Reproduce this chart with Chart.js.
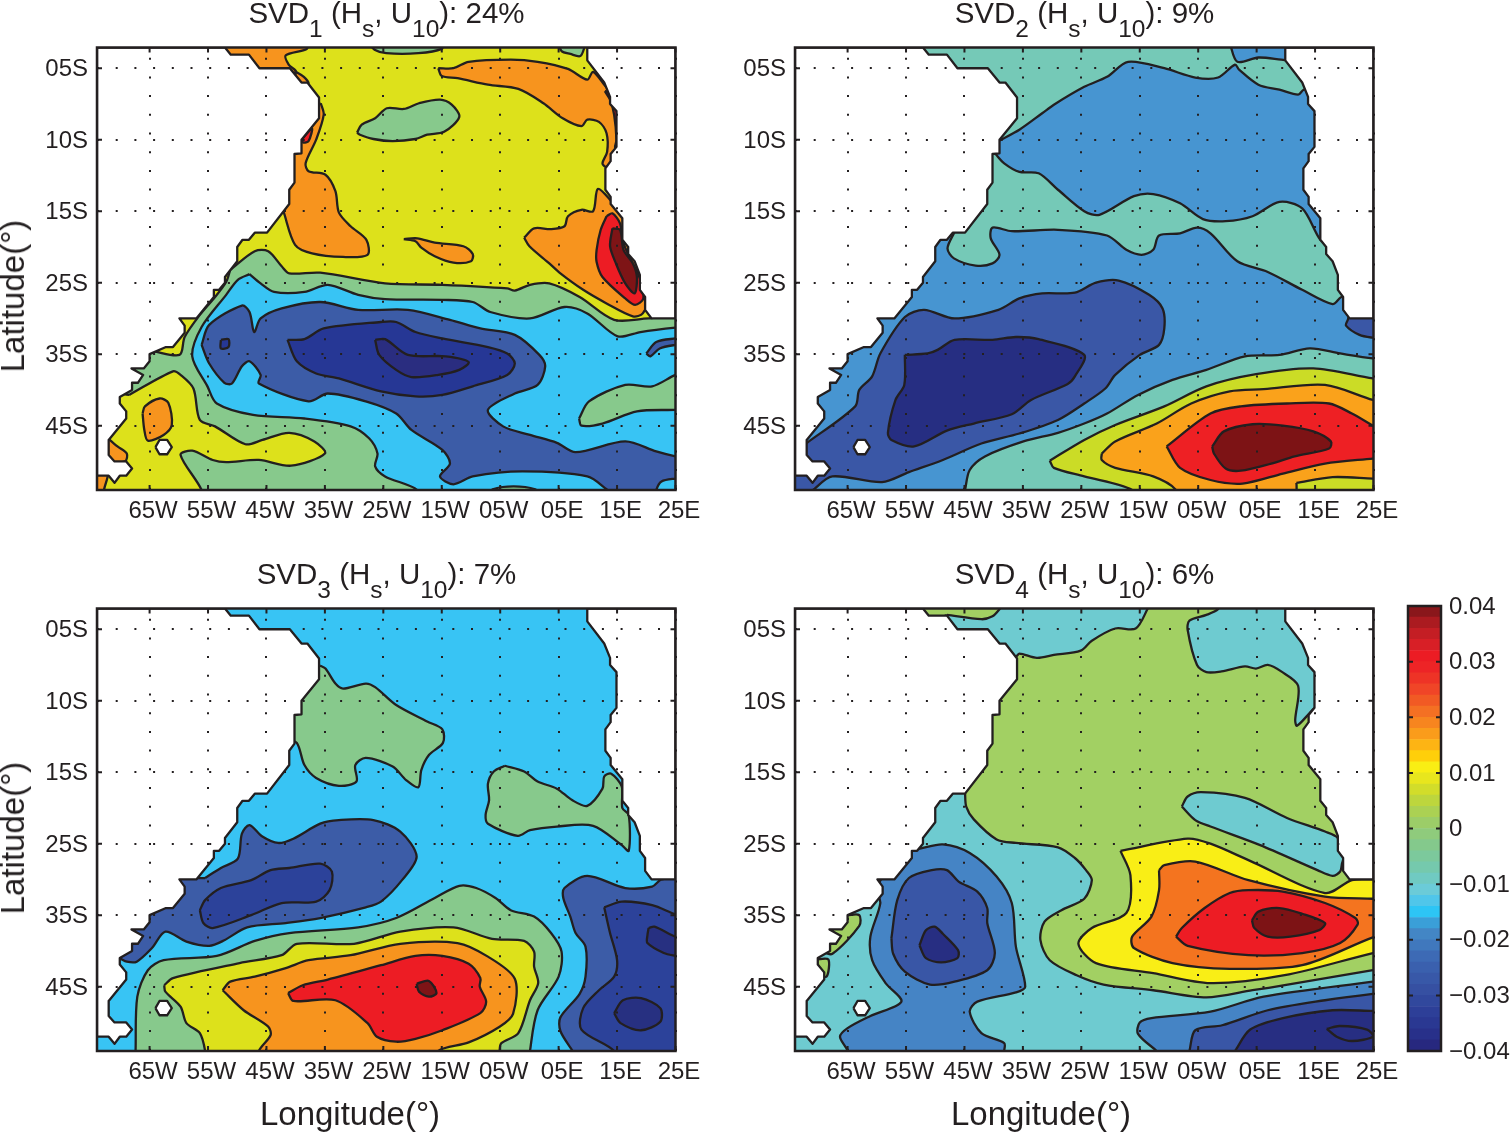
<!DOCTYPE html>
<html>
<head>
<meta charset="utf-8">
<title>SVD maps</title>
<script src="https://cdn.jsdelivr.net/npm/chart.js@4/dist/chart.umd.min.js"></script>
<style>
  html, body { margin: 0; padding: 0; background: #fff; }
  #page { position: relative; width: 1511px; height: 1133px; overflow: hidden; font-family: "Liberation Sans", Arial, sans-serif; color: #231f20; }
  canvas { position: absolute; }
  .title { position: absolute; transform: translateX(-50%); font-size: 29.5px; line-height: 34px; white-space: nowrap; }
  .title span { font-size: 24.5px; position: relative; top: 14px; }
  .axisName { position: absolute; font-size: 33px; line-height: 34px; white-space: nowrap; transform: translate(-50%, -50%); }
  .axisName.rot { transform: translate(-50%, -50%) rotate(-90deg); }
</style>
</head>
<body>
<div id="page">
  <canvas id="map1" width="710" height="510" style="left:0;top:30px"></canvas>
  <canvas id="map2" width="710" height="510" style="left:700px;top:30px"></canvas>
  <canvas id="map3" width="710" height="510" style="left:0;top:591px"></canvas>
  <canvas id="map4" width="710" height="510" style="left:700px;top:591px"></canvas>
  <canvas id="cbar" width="116" height="480" style="left:1395px;top:590px"></canvas>

  <div class="title" style="left:386.5px;top:-4px">SVD<span>1</span> (H<span>s</span>, U<span>10</span>): 24%</div>
  <div class="title" style="left:1084.5px;top:-4px">SVD<span>2</span> (H<span>s</span>, U<span>10</span>): 9%</div>
  <div class="title" style="left:386.5px;top:557px">SVD<span>3</span> (H<span>s</span>, U<span>10</span>): 7%</div>
  <div class="title" style="left:1084.5px;top:557px">SVD<span>4</span> (H<span>s</span>, U<span>10</span>): 6%</div>

  <div class="axisName rot" style="left:13px;top:296px">Latitude(°)</div>
  <div class="axisName rot" style="left:13px;top:838px">Latitude(°)</div>
  <div class="axisName" style="left:350px;top:1114px">Longitude(°)</div>
  <div class="axisName" style="left:1041px;top:1114px">Longitude(°)</div>
</div>

<script>
// ticks
const lonTicks = [-65, -55, -45, -35, -25, -15, -5, 5, 15, 25];
const lonLabels = ["65W", "55W", "45W", "35W", "25W", "15W", "05W", "05E", "15E", "25E"];
const latTicks = [5, 15, 25, 35, 45, 55];
const latLabels = ["05S", "10S", "15S", "25S", "35S", "45S"];
const cbarTicks = [-0.04, -0.03, -0.02, -0.01, 0, 0.01, 0.02, 0.03, 0.04];
const cbarLabels = ["\u22120.04", "\u22120.03", "\u22120.02", "\u22120.01", "0", "0.01", "0.02", "0.03", "0.04"];

// colorbar
const cbarEdges = [-0.04, -0.038, -0.036, -0.034, -0.032, -0.03, -0.028, -0.026, -0.024, -0.022, -0.02, -0.018, -0.016, -0.014, -0.012, -0.01, -0.008, -0.006, -0.004, -0.002, 0, 0.002, 0.004, 0.006, 0.008, 0.01, 0.012, 0.014, 0.016, 0.018, 0.02, 0.022, 0.024, 0.026, 0.028, 0.03, 0.032, 0.034, 0.036, 0.038, 0.04];
const cbarColors = ["#27287f", "#28308a", "#2a3892", "#2d3f98", "#31489d", "#3650a2", "#3858a8", "#3a60ae", "#3d6ab5", "#4078bd", "#4386c5", "#3a9fd8", "#2dc5f5", "#50c6ea", "#6bcbd8", "#70cac2", "#75c9ad", "#7cc99c", "#84c98c", "#8fcb7c", "#9ccd68", "#abd153", "#bdd63d", "#d2dd2a", "#e8e61d", "#f9ee14", "#ffcf0a", "#fdb414", "#fa9c1b", "#f7851f", "#f47023", "#f15a24", "#f04527", "#ee3326", "#ed2426", "#ec1c24", "#d81f26", "#c41e24", "#ab1b20", "#8a171b"];

// domain and land, [lon, lat south]
const oceanBox = [[-74, 2.1], [25, 2.1], [25, 64], [-74, 64]];
const landWest = [[-52.1, 2.1], [-51.1, 3.1], [-48, 3.1], [-46.2, 5], [-41, 5], [-39, 7], [-38, 7], [-36, 9.1], [-36, 12], [-39, 15], [-39, 16.9], [-40.2, 17], [-40.2, 21], [-41.1, 22], [-41.1, 24], [-44.9, 28], [-47, 28], [-48, 29], [-49.1, 29], [-50, 30], [-50, 32], [-52.1, 34.2], [-52.1, 35], [-53.1, 36], [-54, 36], [-54, 37], [-57, 40], [-59.9, 40], [-59, 41], [-59, 42], [-61, 44], [-62.2, 44], [-65, 45], [-65, 46], [-66, 47], [-68.1, 47], [-66.1, 47.9], [-67, 49], [-68, 49], [-68, 50], [-70.1, 51], [-70.1, 51.9], [-69, 53], [-69, 54], [-72, 57], [-72, 59.1], [-71, 60], [-69, 60], [-68, 61], [-69, 62], [-70.1, 62], [-71, 63], [-72, 62], [-74, 62], [-74, 2.1]];
const landEast = [[9.9, 2.1], [9.9, 3.9], [12.8, 7], [13.8, 9], [13.8, 10], [14.9, 11], [14.9, 16], [13.9, 17], [13.9, 18], [13, 19], [13, 22], [13.9, 23], [13.9, 24], [15.9, 26], [15.9, 29], [16.9, 30], [16.9, 31], [18, 32], [18.9, 33.9], [18.9, 36], [19.8, 37], [19.8, 38.8], [20.9, 40], [25, 40], [25, 2.1]];
const islandGough = [[-64, 58], [-63.3, 57], [-62, 57], [-61.2, 58], [-62, 59], [-63.3, 59]];

// SVD1 contours
const p1OrangeNW = [[-53, 1.5], [-38.1, 1.5], [-38.1, 2.3], [-41.7, 3.2], [-41.2, 4.5], [-40, 5.5], [-44, 7], [-50, 6]];
const p1OrangeNotch = [[-40, 5.5], [-38.6, 6.2], [-37.8, 7.1], [-39, 7.2], [-40, 6.2]];
const p1GreenTop = [[-27.5, 1.5], [-26.5, 2.4], [-24.5, 2.9], [-19, 2.9], [-15, 2.3], [-15, 1.5]];
const p1GreenCorner = [[5, 1.5], [5.5, 2.6], [7, 3], [8.7, 3.3], [9.4, 2.1], [9.4, 1.5]];
const p1OrangeNE = [[-15.6, 5], [-13, 5], [-10.4, 4.1], [-3.2, 3.8], [1.4, 4.1], [6.6, 5.1], [9.9, 6.6], [10.9, 5.5], [13, 7.5], [15.5, 10], [16, 16], [13.2, 18.8], [12.5, 18.3], [13.3, 16.7], [13.2, 14.1], [11.9, 12.5], [9.9, 12.2], [8.9, 13.1], [5.7, 12], [2.4, 9.9], [-1.9, 7.9], [-7.1, 7.3], [-12.3, 6.4], [-15, 6.1]];
const p1RedNE = [[12.9, 8.2], [13.8, 9.4], [14.5, 11.5], [14.9, 15], [14.7, 16.2], [16.5, 16], [16.5, 9]];
const p1GreenMid = [[-29.5, 14], [-28.7, 12.9], [-26.4, 12], [-24.4, 10.6], [-21.5, 10.7], [-18.9, 9.9], [-15.3, 9.4], [-13.3, 10.1], [-12, 11.8], [-14.6, 13.9], [-17.5, 14.3], [-19.5, 14.9], [-23.4, 15.2], [-26.7, 14.9], [-29, 14.3]];
const p1OrangeBrazil = [[-35.7, 9.9], [-35.2, 11.5], [-36.5, 15], [-38.3, 18.3], [-37.8, 19.4], [-34.9, 19.9], [-33.2, 22.2], [-32.6, 25.2], [-30.6, 27.1], [-27.9, 29], [-27.7, 31.1], [-31.9, 31.4], [-37.2, 30.9], [-40.1, 29.7], [-42.1, 25], [-43, 23], [-42, 18], [-41, 15], [-38, 11]];
const p1RedBrazil = [[-39, 15], [-37.2, 13.4], [-37.8, 15.2], [-38.7, 15.4]];
const p1OrangeSmall = [[-21.5, 28.9], [-19.2, 28.8], [-16.2, 29.4], [-11.3, 29.9], [-9.7, 31], [-10, 32], [-13, 32.2], [-16.2, 31.3], [-18.5, 30.1], [-19.5, 29.2]];
const p1OrangeAngola = [[-0.9, 28.7], [0.8, 27.4], [3.7, 27.5], [6, 27.1], [6.6, 25.7], [8.9, 24.8], [10.9, 25], [11.7, 21.9], [13.8, 23.4], [15.8, 25.7], [18, 30], [21, 36], [19.4, 39.3], [17.7, 39.7], [13.2, 37.9], [9.2, 36], [5.3, 33.7], [3.4, 32.3], [0, 29.9]];
const p1RedAngola = [[13.2, 25.7], [14.2, 25.3], [15.5, 26.7], [16.1, 29.5], [17.7, 32.3], [19, 34.6], [19.5, 37.2], [18.1, 38.1], [16.4, 37.2], [12.5, 34.2], [11.5, 32.1], [11.5, 30.4], [12.2, 27.6]];
const p1DarkRed = [[14.2, 27.4], [15.5, 27.6], [16.1, 30.4], [17.7, 32.3], [18.4, 34.2], [18, 36.5], [16.4, 35.1], [14.8, 32.3], [13.8, 29.9]];
const p1Green = [[-51.2, 33.2], [-47, 30.6], [-44.7, 30.6], [-42.4, 32.7], [-41.1, 33.7], [-35.8, 33.6], [-24.7, 35.1], [-14.9, 35.3], [-3.8, 35.8], [-2.5, 36.1], [0.1, 35.3], [3.4, 35.1], [8.6, 37], [14.5, 40.2], [20.4, 40], [26, 40], [26, 66], [-76, 66], [-76, 47], [-66, 44.5], [-59.9, 45.1], [-59, 42.6], [-56.4, 39.5], [-53.8, 37], [-51.9, 34.9]];
const p1YellowSW = [[-68.5, 50.7], [-61, 47.4], [-59.7, 47.9], [-57.5, 49.8], [-56.4, 54.2], [-53.8, 55.1], [-48.6, 57.6], [-45.7, 57], [-41.1, 56], [-36.8, 57.2], [-35, 58.9], [-40.8, 60.6], [-46.3, 59.8], [-51.9, 60.1], [-54.2, 59.8], [-57.7, 58.5], [-59.7, 59.1], [-56.1, 64], [-56, 66], [-76, 66], [-76, 50]];
const p1OrangeSW = [[-66.2, 53.3], [-65.8, 52.3], [-63.3, 51.2], [-61.8, 51.8], [-61.2, 54.9], [-62.6, 56.3], [-65.3, 57.1], [-65.9, 55.6]];
const p1OrangeCoast = [[-72.5, 56.5], [-70.5, 57.9], [-68.9, 58.9], [-69.2, 60], [-72.5, 60]];
const p1OrangeCorner = [[-75, 61.5], [-72.2, 61.5], [-72.8, 64], [-72.8, 65], [-75, 65]];
const p1Sky = [[-47.9, 33.8], [-46, 35.1], [-43.7, 36.3], [-38.5, 36.3], [-34.5, 35.3], [-29.3, 36.7], [-24.7, 37.3], [-14.9, 37.4], [-9.7, 37.7], [-6.7, 39.1], [0.1, 40], [6, 38.4], [9.9, 39.3], [15.1, 42.5], [19, 41.9], [25, 41.3], [26, 41.3], [26, 66], [-19.2, 66], [-19.2, 64], [-24.7, 62.1], [-26.4, 60.7], [-26, 58.9], [-27.4, 56.8], [-30.6, 55.1], [-38.5, 54], [-47.3, 53.5], [-53.5, 51.9], [-55.1, 49.5], [-57.7, 45.3], [-56.1, 41.2], [-51.9, 36.7], [-49.9, 34.6]];
const p1Blue = [[-56.1, 43.7], [-54.8, 40.9], [-49.2, 38.2], [-47.9, 39.1], [-47.1, 41.9], [-46, 40], [-42.4, 38.6], [-35.8, 37.7], [-29.3, 38.8], [-20.8, 38.8], [-13.6, 40.2], [-8.4, 41.4], [-2.5, 42.3], [1.7, 45.1], [2.7, 46.7], [1.4, 49.3], [-2.5, 50.5], [-7.1, 52.8], [-4.5, 55.1], [0.1, 56.3], [4.7, 57.4], [7.9, 58.7], [16.4, 57.2], [21.7, 58.6], [25, 59.3], [26, 59.4], [26, 62.4], [25, 62.4], [22.6, 62.8], [21.7, 64], [21.7, 65], [14.5, 65], [13.2, 63.9], [9.9, 62.1], [-1.2, 61.4], [-9.7, 62.1], [-13, 63.2], [-15.3, 62.1], [-13.6, 60.3], [-14.9, 58.4], [-20.2, 55.6], [-22.8, 53.3], [-28, 51.6], [-34.5, 50.5], [-37.8, 51.6], [-46.3, 49.1], [-46, 47.9], [-47.9, 46], [-49.2, 46.7], [-50.9, 49.1], [-52.2, 49], [-54.8, 46.3]];
const p1GreenBottom = [[-6.5, 64.5], [-6.3, 63.9], [-2.7, 63.5], [1, 63.9], [1.2, 64.5]];
const p1GreenEast = [[8.5, 54], [10.2, 51.6], [16.4, 49.3], [21, 49.5], [25, 47.9], [26, 47.9], [26, 52.8], [25, 52.8], [18.4, 53], [12.5, 54.7], [8.9, 55]];
const p1BlueEast = [[20, 44.9], [21.7, 43.3], [25, 42.8], [26, 42.8], [26, 43.7], [25, 43.7], [22.3, 44.2], [20.7, 45.3]];
const p1Navy = [[-41.4, 43], [-38.5, 42.9], [-35.2, 41.4], [-25.4, 40.5], [-22.8, 40.5], [-19.5, 41.9], [-14.9, 42.8], [-7.1, 44], [-3.8, 44.9], [-2.5, 46.3], [-3.8, 47.9], [-9.7, 49.5], [-14.9, 50.7], [-19.5, 50.9], [-25.4, 50.2], [-32.6, 48.4], [-36.5, 47.7], [-39.8, 46]];
const p1NavyDot = [[-52.8, 43], [-51.5, 42.9], [-51.5, 44], [-52.8, 44.2]];
const p1Deep = [[-26.4, 43], [-24.7, 42.9], [-20.8, 45.1], [-14.3, 45.3], [-10.4, 46.1], [-12, 47.2], [-15.6, 47.9], [-20.2, 48.2], [-22.8, 47.2], [-25.7, 45.1]];

// SVD2 contours
const p2BlueNorth = [[-39, 15.1], [-35.6, 13.6], [-31.7, 11.3], [-29.7, 10.1], [-24.5, 7.6], [-20.6, 6.2], [-17, 4.1], [-10.8, 5], [-5.5, 6.3], [-1.6, 6.3], [1.3, 4.5], [2, 5.2], [5.3, 7.3], [8.9, 8], [12.1, 8.7], [13.1, 8], [17, 8], [17, 29], [15.9, 29], [12.8, 24.6], [8.9, 23.7], [4.3, 25.7], [-0.3, 26.4], [-4.2, 26.1], [-8.1, 23.9], [-12.7, 22.6], [-16, 22.9], [-21.9, 25.5], [-24.5, 25], [-29, 22], [-32.3, 19.7], [-35.6, 19.5], [-38.2, 18.3], [-39.8, 16.9], [-41, 16]];
const p2BlueCorner = [[0.4, 1.5], [1.7, 4.1], [5.3, 3.5], [9.2, 3.8], [10, 3.9], [11, 3.9], [11, 1.5]];
const p2BlueSouth = [[-46.7, 27.9], [-47.9, 30.2], [-46.8, 31.6], [-43.1, 32.6], [-40.2, 32.3], [-39, 31.1], [-40.5, 28.8], [-40.2, 27.3], [-36.9, 27.8], [-29, 27.6], [-20.6, 28.4], [-17.3, 30.4], [-14.7, 31.1], [-12.7, 30.4], [-11.7, 28.4], [-8.1, 28.1], [-5.2, 27.3], [-2.9, 28.1], [1.7, 32], [6.9, 33.5], [12.8, 36], [18, 38], [19.5, 37], [21, 37], [26, 40], [26, 66], [-76, 66], [-76, 40], [-50, 28]];
const p2TealSouth = [[-44.9, 64], [-44.1, 61.2], [-41.5, 59.3], [-34.9, 57.2], [-29, 56], [-24.5, 54.7], [-20.6, 53.3], [-15.3, 50.7], [-9.4, 48.6], [-3.6, 47.2], [3, 45.3], [8.9, 45.1], [14.1, 44.2], [19.3, 44.9], [24.9, 45.6], [26, 45.6], [26, 66], [-44.9, 66]];
const p2DarkBlue = [[-72.1, 57.5], [-63.7, 52.3], [-63, 50], [-60.8, 48.1], [-59.4, 44.9], [-55.2, 39.8], [-51.9, 38.8], [-46.7, 40], [-39.2, 38.8], [-35.6, 37.2], [-31.7, 36.5], [-26.1, 36.4], [-22.5, 35], [-18.6, 34.7], [-13.4, 36.7], [-11.1, 38.6], [-10.8, 41.4], [-11.7, 43.7], [-15, 45.1], [-19.2, 47.9], [-20.9, 49.8], [-24.5, 51.9], [-29, 54.2], [-35.6, 56.1], [-42.1, 57.5], [-48.7, 59.8], [-54.5, 61.5], [-59.1, 62.9], [-67.6, 62.1], [-70.9, 64], [-72, 65], [-76, 65], [-76, 57]];
const p2DarkEast = [[20.6, 40.2], [20.3, 41], [22.6, 42.3], [24.9, 42.7], [26, 42.7], [26, 39.5], [21, 39.5]];
const p2Navy = [[-55.2, 45.1], [-51.3, 44.9], [-49.6, 44.4], [-46.7, 43], [-40.2, 43], [-36.2, 42.6], [-32.3, 42.9], [-24.5, 45.1], [-26.1, 48.1], [-27.4, 49.2], [-33.6, 51.4], [-36.9, 53.4], [-43.4, 54.7], [-48, 55.7], [-53.6, 57.9], [-57.5, 57], [-58.1, 56], [-56.8, 51.4], [-55.3, 49.3]];
const p2Lime = [[-30.4, 59.9], [-24.5, 57], [-19.2, 54.9], [-10.8, 52.3], [-3.6, 49.5], [4.9, 47.8], [14.7, 47], [24.9, 48.4], [26, 48.4], [26, 66], [-16.3, 66], [-16.3, 64], [-24.5, 62.1], [-29.7, 60.9]];
const p2Amber = [[-21.5, 58.9], [-19.2, 57.2], [-12.1, 54.7], [-6.2, 51.9], [0.4, 50.2], [6.2, 49.9], [16.7, 49.3], [24.9, 51.4], [26, 51.4], [26, 66], [-8.8, 66], [-8.8, 64], [-12.7, 62.1], [-19.2, 60.9], [-21.5, 59.8]];
const p2LimeLens = [[11.8, 63], [18, 62.2], [24.9, 62.4], [26, 62.4], [26, 66], [12.4, 66]];
const p2Red = [[-10.4, 57.9], [-2.9, 53.3], [2.3, 52.3], [10.2, 51.9], [17.4, 51.9], [21.3, 53.3], [24.9, 55], [26, 55.5], [26, 59.5], [24.9, 59.6], [16.7, 60.3], [9.5, 61.7], [2.6, 63.1], [-2.9, 62.6], [-8.1, 60.9]];
const p2DarkRed = [[-2.6, 57.9], [-0.6, 55.8], [4.3, 54.8], [9.5, 55], [14.7, 55.8], [17.7, 57.2], [17.4, 58.2], [11.5, 59.3], [7.5, 60.3], [2.3, 61.3], [-0.3, 61], [-2.3, 58.9]];

// SVD3 contours
const p3GreenBrazil = [[-35.8, 10.1], [-34.9, 10.5], [-33.2, 12.6], [-31.9, 13.3], [-28, 12.6], [-26.4, 13.1], [-22.8, 15.6], [-17.5, 17.9], [-14.9, 19], [-14.8, 20.9], [-17.2, 22.6], [-18.5, 24.7], [-19, 27.1], [-21.1, 26.1], [-23.4, 24.2], [-28, 23], [-29.8, 24], [-29.6, 26.3], [-32.6, 26.9], [-36.5, 25.8], [-38.5, 24], [-39.8, 20.9], [-42, 20], [-42, 12], [-37, 10]];
const p3GreenAngola = [[-4.2, 24.1], [-0.9, 24.9], [1.4, 26.3], [4.7, 27.3], [7.3, 28.9], [9.9, 29.7], [12.5, 27.3], [12.8, 25.6], [14, 25.2], [15.8, 27], [15.9, 30], [17, 31], [17, 36], [15.8, 35.2], [10.9, 32.5], [4.7, 32.6], [0.1, 33.1], [-2, 33.9], [-7.1, 32.2], [-7.5, 31], [-6.9, 28.9], [-7.1, 26.6], [-6.1, 24.9]];
const p3Blue = [[-55.5, 39.8], [-52.8, 38.4], [-49.9, 37.1], [-49.2, 33.6], [-47.9, 32.4], [-45.7, 34], [-43, 34.9], [-40.4, 34.3], [-35.8, 32.2], [-32.6, 31.7], [-26.7, 31.7], [-22.1, 33.3], [-19.3, 36.8], [-21.8, 40.1], [-25.4, 43.1], [-28, 43.9], [-35.8, 45.4], [-41.7, 46.1], [-48.3, 46.7], [-52.2, 48.5], [-54.8, 49.3], [-58.7, 48.7], [-62.3, 47.3], [-64.6, 49.6], [-67.2, 51.5], [-68.9, 51.5], [-70.2, 51], [-74, 50], [-70, 44], [-60, 40]];
const p3Mid = [[-56.4, 44.3], [-55.5, 42.9], [-52.8, 41.2], [-47.6, 40.1], [-44.3, 38.7], [-41.1, 38.4], [-35.8, 37.8], [-33.8, 38.9], [-34.2, 41.5], [-36.5, 43.1], [-42.4, 43.3], [-47.6, 45], [-54.2, 46.8], [-55.8, 46.1]];
const p3Green = [[-67.4, 64], [-67.1, 56.4], [-65.3, 52.7], [-62.6, 51.3], [-53.5, 50.7], [-47, 48.6], [-41.1, 47.5], [-29.3, 46.7], [-22.8, 45.4], [-16.2, 42.6], [-12, 40.9], [-9.1, 41.2], [-5.8, 42.6], [-3.2, 44.3], [0.8, 45.2], [3.7, 47.5], [5.5, 50.1], [5, 53.6], [1.4, 58.3], [0.1, 64], [0, 66], [-67.4, 66]];
const p3Yellow = [[-62.5, 54.8], [-61, 53.8], [-49.6, 51.7], [-42.4, 50.6], [-39.8, 49], [-30, 49], [-22.1, 47.3], [-13, 46.7], [-6.4, 48.3], [-0.9, 48.6], [0.8, 50.1], [0.8, 52.2], [1.5, 54.5], [0.1, 56.9], [-1.9, 61.5], [-4.8, 62.9], [-5.1, 64], [-5, 66], [-55.5, 66], [-55.5, 64], [-56.4, 61.5], [-58.7, 60.1], [-59.7, 57.8], [-62.3, 55.7]];
const p3Orange = [[-52.5, 55.5], [-51.2, 54.3], [-47, 53.6], [-41.7, 52.4], [-37.8, 51.3], [-30.6, 50.6], [-22.1, 49], [-12.3, 48.9], [-7.1, 50.8], [-2.5, 53.9], [-2.8, 58.8], [-5.1, 60.6], [-10.4, 62.8], [-15.6, 64], [-15.6, 66], [-46.3, 66], [-46.3, 64], [-44.3, 61.8], [-44.7, 60.6], [-48.9, 58.3]];
const p3Red = [[-41.3, 55.9], [-38.8, 54.8], [-34.5, 54], [-25.4, 52], [-19.5, 50.7], [-14.9, 50.7], [-10.4, 51.8], [-8.4, 53.8], [-8.5, 55], [-7.4, 57.1], [-8.4, 58.7], [-14.9, 61.1], [-19.5, 62.3], [-22.8, 62.7], [-26.1, 62], [-27.7, 60.1], [-33.2, 56.9], [-40.4, 57]];
const p3DarkRed = [[-19.3, 54.6], [-17.2, 54.2], [-15.9, 55.9], [-17.2, 56.4], [-18.9, 55.7]];
const p3BlueEast = [[7.4, 64], [5.3, 61.2], [5.3, 59.3], [8.6, 56], [9.6, 53.6], [9.6, 49.4], [7.9, 47.5], [7, 45.2], [5.8, 42.6], [6, 41.2], [9.9, 39.5], [16.4, 41.2], [21, 41], [22.6, 40], [26, 40], [26, 66], [7.4, 66]];
const p3MidEast = [[12.8, 43.9], [15.8, 43.1], [21, 43.6], [25, 44.9], [26, 45], [26, 66], [14.5, 66], [14.5, 64], [8.9, 61], [9.2, 58], [11.9, 55.5], [14.5, 53.6], [15, 51.3], [13.8, 47.5]];
const p3DeepEast = [[20.4, 46.8], [21.4, 46.6], [25, 48], [26, 48], [26, 50.8], [25, 50.7], [23, 50.3], [20.2, 48.9], [20.2, 47.8]];
const p3DeepSouth = [[14.5, 58.7], [16, 56.9], [19.1, 56.6], [22.4, 58], [22.4, 59.9], [19.1, 61.1], [15.6, 60.1]];

// SVD4 contours
const p4TealNorth = [[-48, 3], [-42.1, 3.6], [-40.2, 3.2], [-39, 2.2], [-38.5, 1.5], [-13.5, 1.5], [-13.7, 2.2], [-15.7, 4.9], [-19.2, 4.9], [-23.2, 6.6], [-25.1, 8], [-29.7, 8.6], [-32.6, 9], [-35.6, 8.4], [-36.2, 8.8], [-42, 8], [-50, 4]];
const p4TealNE = [[-1.6, 1.5], [-1.6, 2.2], [-3.6, 3], [-6.5, 3.8], [-6.8, 5.1], [-5.2, 10], [-3.6, 11], [-1, 10.9], [3, 10.2], [4.9, 10.5], [6.9, 10], [9.2, 10.9], [12.1, 12.9], [11.6, 17.7], [11.9, 18.5], [14.1, 16.7], [14.9, 16], [17, 15], [17, 1.5]];
const p4TealMid = [[-7.8, 29.8], [-6.8, 28.4], [-4.5, 27.8], [3, 28.6], [10.2, 31.4], [16.7, 33.3], [18.9, 34.2], [19.9, 36.8], [19.6, 37.8], [19.3, 38.9], [18, 39.5], [15.4, 38.7], [5.6, 35.2], [-2.9, 32.6], [-5.5, 31.7]];
const p4TealSouth = [[-44.9, 27.9], [-44.7, 29.8], [-43.4, 31.6], [-39.5, 34.4], [-36.2, 34.9], [-29, 35.5], [-26.1, 37], [-24.2, 38.7], [-23.2, 40.1], [-24.5, 42.7], [-28.4, 44.3], [-31.3, 45.9], [-32, 48.5], [-30.4, 51.3], [-25.8, 53.4], [-21.2, 54.7], [-12.7, 55.5], [-3.6, 56.5], [4.3, 55.5], [9.8, 54.8], [24.9, 52.7], [26, 52.6], [26, 66], [-76, 66], [-76, 40], [-50, 26]];
const p4GreenCoastA = [[-65.1, 45], [-63, 45], [-63, 46.5], [-67.6, 50.4], [-69, 50], [-68, 47], [-66, 45]];
const p4GreenCoastB = [[-70.5, 51.2], [-68.3, 51.2], [-68.6, 53.6], [-70, 53]];
const p4BlueWest = [[-52.6, 35.7], [-48.7, 35.1], [-44.1, 36.3], [-39.5, 39.6], [-36.9, 43.3], [-36.2, 49.4], [-34.6, 55], [-36.2, 55.8], [-42.8, 57.1], [-44.1, 58.5], [-42.1, 61.5], [-38.2, 62.9], [-38.2, 64], [-38.2, 66], [-65, 66], [-65, 64], [-66.3, 62], [-65, 60.8], [-61.1, 59.1], [-55.8, 57.1], [-58.5, 54.5], [-60.8, 51.3], [-61.1, 48], [-59.4, 43.3], [-60, 41], [-55, 36]];
const p4DarkWest = [[-57.5, 48.2], [-56.5, 42.9], [-54.5, 39.8], [-50.6, 38.7], [-48, 38.7], [-46, 40.3], [-42.8, 41.7], [-41.1, 44], [-41.1, 46.1], [-39.8, 50.3], [-41.1, 52.7], [-46.7, 54.3], [-50.9, 54.7], [-55.2, 52.9], [-57.2, 50.4]];
const p4NavyWest = [[-52.7, 49.2], [-51.6, 47.1], [-50.1, 46.6], [-48.7, 47.6], [-46.1, 49.9], [-46.2, 51], [-49, 51.6], [-51.6, 51]];
const p4BlueSouth = [[-12.1, 64], [-15.3, 61.6], [-15, 60], [-13, 59.4], [-2.9, 58.5], [6.2, 56.4], [24.9, 54.3], [26, 54.2], [26, 66], [-12.1, 66]];
const p4DarkSouth = [[-6.5, 64], [-5.5, 61.1], [-0.9, 60.4], [6.9, 58.3], [16.7, 56.9], [24.9, 56], [26, 56], [26, 66], [-6.5, 66]];
const p4NavySouth = [[1.3, 64], [3.9, 61], [9.5, 59.4], [18, 58.3], [24.9, 58.4], [26, 58.4], [26, 66], [1.3, 66]];
const p4NavyLens = [[17, 60.9], [19.2, 60.5], [23.9, 61], [24.9, 62], [21.3, 62.6], [18.7, 62]];
const p4Yellow = [[-18.3, 36], [-6.8, 34.3], [-2.9, 35], [3.6, 37.3], [16.7, 41.9], [21.3, 40.1], [24.9, 40], [26, 40], [26, 50.3], [24.9, 50.3], [9.8, 53.4], [-2.9, 54.5], [-12.7, 53.1], [-22.5, 51.7], [-25.5, 49], [-23.2, 46.8], [-17.3, 44.7], [-16.6, 39.4]];
const p4Orange = [[-11.7, 38.7], [-10.8, 38], [-5.5, 37.5], [3.6, 40.1], [16.7, 42.4], [24.9, 42.7], [26, 42.7], [26, 48.1], [24.9, 48.1], [12.8, 52], [0.4, 52.5], [-9.4, 51.7], [-16, 49.6], [-16.3, 48], [-13, 45.2], [-11.7, 41.5]];
const p4Red = [[-8.8, 48], [-7.8, 46.8], [-3.9, 44], [0.4, 41.9], [3.6, 41.5], [9.5, 41.7], [16.7, 43.3], [21.9, 45.4], [22.3, 46.3], [19.3, 48.9], [12.8, 50.3], [3.6, 50.6], [-6.8, 49.3]];
const p4DarkRed = [[4.2, 45.7], [5.3, 44.5], [8.9, 44], [12.8, 44.8], [16.7, 46.1], [15.7, 47.1], [10.8, 48], [6.9, 48], [4.6, 46.8]];

const ink = "#231f20";

// bottom layer first
const panel1 = [[oceanBox, "#dde11b"], [p1OrangeNW, "#f7941e"], [p1OrangeNotch, "#f7941e"], [p1GreenTop, "#87c98c"], [p1GreenCorner, "#87c98c"], [p1OrangeNE, "#f7941e"], [p1RedNE, "#ed1c24"], [p1GreenMid, "#87c98c"], [p1OrangeBrazil, "#f7941e"], [p1RedBrazil, "#ed1c24"], [p1OrangeSmall, "#f7941e"], [p1OrangeAngola, "#f7941e"], [p1RedAngola, "#ed1c24"], [p1DarkRed, "#7e1416"], [p1Green, "#87c98c"], [p1YellowSW, "#dde11b"], [p1OrangeSW, "#f7941e"], [p1OrangeCoast, "#f7941e"], [p1OrangeCorner, "#f7941e"], [p1Sky, "#38c4f4"], [p1Blue, "#3c5ca7"], [p1GreenBottom, "#87c98c"], [p1GreenEast, "#87c98c"], [p1BlueEast, "#3c5ca7"], [p1Navy, "#263795"], [p1NavyDot, "#263795"], [p1Deep, "#2a2d80"]];
const panel2 = [[oceanBox, "#75c9b7"], [p2BlueNorth, "#4795d1"], [p2BlueCorner, "#4795d1"], [p2BlueSouth, "#4795d1"], [p2TealSouth, "#75c9b7"], [p2DarkBlue, "#3a57a6"], [p2DarkEast, "#3a57a6"], [p2Navy, "#262e82"], [p2Lime, "#cbdc26"], [p2Amber, "#faa21b"], [p2LimeLens, "#cbdc26"], [p2Red, "#ee2024"], [p2DarkRed, "#7d1315"]];
const panel3 = [[oceanBox, "#38c4f4"], [p3GreenBrazil, "#87c98c"], [p3GreenAngola, "#87c98c"], [p3Blue, "#3c5ca7"], [p3Mid, "#2c429a"], [p3Green, "#87c98c"], [p3Yellow, "#dde11b"], [p3Orange, "#f7941e"], [p3Red, "#ed1c24"], [p3DarkRed, "#7e1416"], [p3BlueEast, "#3c5ca7"], [p3MidEast, "#2c429a"], [p3DeepEast, "#273081"], [p3DeepSouth, "#273081"]];
const panel4 = [[oceanBox, "#a2d063"], [p4TealNorth, "#6ecbd0"], [p4TealNE, "#6ecbd0"], [p4TealMid, "#6ecbd0"], [p4TealSouth, "#6ecbd0"], [p4GreenCoastA, "#a2d063"], [p4GreenCoastB, "#a2d063"], [p4BlueWest, "#4584c5"], [p4DarkWest, "#3956a6"], [p4NavyWest, "#272e82"], [p4BlueSouth, "#4584c5"], [p4DarkSouth, "#3956a6"], [p4NavySouth, "#272e82"], [p4NavyLens, "#272e82"], [p4Yellow, "#f9ee16"], [p4Orange, "#f4741f"], [p4Red, "#ed1c24"], [p4DarkRed, "#7d1315"]];

// fills each closed contour with its own line element, just before that line is stroked
const contourFill = {
    id: "contourFill",
    beforeDatasetDraw(chart, args) {
        const line = args.meta.dataset;
        if (!line) return;
        const a = chart.chartArea, ctx = chart.ctx;
        line.updateControlPoints(a);
        ctx.save();
        ctx.beginPath();
        ctx.rect(a.left, a.top, a.right - a.left, a.bottom - a.top);
        ctx.clip();
        ctx.beginPath();
        line.path(ctx);
        ctx.closePath();
        ctx.fillStyle = line.options.backgroundColor;
        ctx.fill();
        ctx.restore();
    }
};

// frame and the short inward ticks
const frameTicks = {
    id: "frameTicks",
    afterDraw(chart) {
        const a = chart.chartArea, ctx = chart.ctx, len = 5;
        ctx.save();
        ctx.strokeStyle = ink;
        ctx.lineWidth = 2;
        ctx.beginPath();
        if (chart.scales.x.options.display) {
            chart.scales.x.ticks.forEach(t => {
                const px = chart.scales.x.getPixelForValue(t.value);
                ctx.moveTo(px, a.top); ctx.lineTo(px, a.top + len);
                ctx.moveTo(px, a.bottom); ctx.lineTo(px, a.bottom - len);
            });
        }
        chart.scales.y.ticks.forEach(t => {
            const py = chart.scales.y.getPixelForValue(t.value);
            ctx.moveTo(a.left, py); ctx.lineTo(a.left + len, py);
            ctx.moveTo(a.right, py); ctx.lineTo(a.right - len, py);
        });
        ctx.stroke();
        ctx.lineWidth = 2.5;
        ctx.strokeRect(a.left, a.top, a.right - a.left, a.bottom - a.top);
        ctx.restore();
    }
};

function toDataset(layer, i, all) {
    const pts = layer[0].map(p => ({ x: p[0], y: p[1] }));
    pts.push(pts[0]);
    const isLand = layer[0] === landWest || layer[0] === landEast || layer[0] === islandGough;
    const isBase = layer[0] === oceanBox;
    return {
        data: pts,
        showLine: true,
        pointRadius: 0,
        backgroundColor: layer[1],
        borderColor: ink,
        borderWidth: isBase ? 0 : 2.3,
        borderJoinStyle: "round",
        tension: isLand || isBase ? 0 : 0.3,
        capBezierPoints: false,
        order: all.length - i
    };
}

function drawMap(id, layers, yWidth, rightPad) {
    const full = layers.concat([[landWest, "#ffffff"], [landEast, "#ffffff"], [islandGough, "#ffffff"]]);
    new Chart(document.getElementById(id), {
        type: "scatter",
        data: { datasets: full.map(toDataset) },
        plugins: [contourFill, frameTicks],
        options: {
            responsive: false,
            animation: false,
            events: [],
            layout: { padding: { top: 17.5, right: rightPad } },
            plugins: { legend: { display: false }, tooltip: { enabled: false } },
            scales: {
                x: {
                    type: "linear", min: -74, max: 25,
                    afterBuildTicks: s => { s.ticks = lonTicks.map(v => ({ value: v })); },
                    afterFit: s => { s.height = 50; s.paddingLeft = 0; s.paddingRight = 0; },
                    grid: { z: 1, color: ink, lineWidth: 2, drawTicks: false },
                    border: { display: false, dash: [2, 16.7], dashOffset: 8.5 },
                    ticks: {
                        autoSkip: false, maxRotation: 0, padding: 7, labelOffset: 3.5,
                        color: ink, font: { family: "Liberation Sans", size: 24 },
                        callback: (v, i) => lonLabels[i]
                    }
                },
                y: {
                    type: "linear", min: 2.1, max: 64, reverse: true,
                    afterBuildTicks: s => { s.ticks = latTicks.map(v => ({ value: v })); },
                    afterFit: s => { s.width = yWidth; s.paddingTop = 0; s.paddingBottom = 0; },
                    grid: { z: 1, color: ink, lineWidth: 2, drawTicks: false },
                    border: { display: false, dash: [2, 16.7] },
                    ticks: {
                        autoSkip: false, padding: 9, labelOffset: 1.5,
                        color: ink, font: { family: "Liberation Sans", size: 24 },
                        callback: (v, i) => latLabels[i]
                    }
                }
            }
        }
    });
}

drawMap("map1", panel1, 97, 34.5);
drawMap("map2", panel2, 95, 36.5);
drawMap("map3", panel3, 97, 34.5);
drawMap("map4", panel4, 95, 36.5);

// colorbar: one floating bar per colour band
new Chart(document.getElementById("cbar"), {
    type: "bar",
    data: {
        labels: [""],
        datasets: cbarColors.map((c, i) => ({
            data: [[cbarEdges[i], cbarEdges[i + 1]]],
            backgroundColor: c,
            borderWidth: 0,
            barPercentage: 1,
            categoryPercentage: 1
        }))
    },
    plugins: [frameTicks],
    options: {
        responsive: false,
        animation: false,
        events: [],
        layout: { padding: { left: 13, top: 16, bottom: 19 } },
        plugins: { legend: { display: false }, tooltip: { enabled: false } },
        scales: {
            x: { stacked: true, display: false },
            y: {
                position: "right", min: -0.04, max: 0.04,
                afterBuildTicks: s => { s.ticks = cbarTicks.map(v => ({ value: v })); },
                afterFit: s => { s.width = 70; s.paddingTop = 0; s.paddingBottom = 0; },
                grid: { display: false, drawTicks: false },
                border: { display: false },
                ticks: {
                    autoSkip: false, padding: 8, labelOffset: 1,
                    color: ink, font: { family: "Liberation Sans", size: 24 },
                    callback: (v, i) => cbarLabels[i]
                }
            }
        }
    }
});
</script>
</body>
</html>
